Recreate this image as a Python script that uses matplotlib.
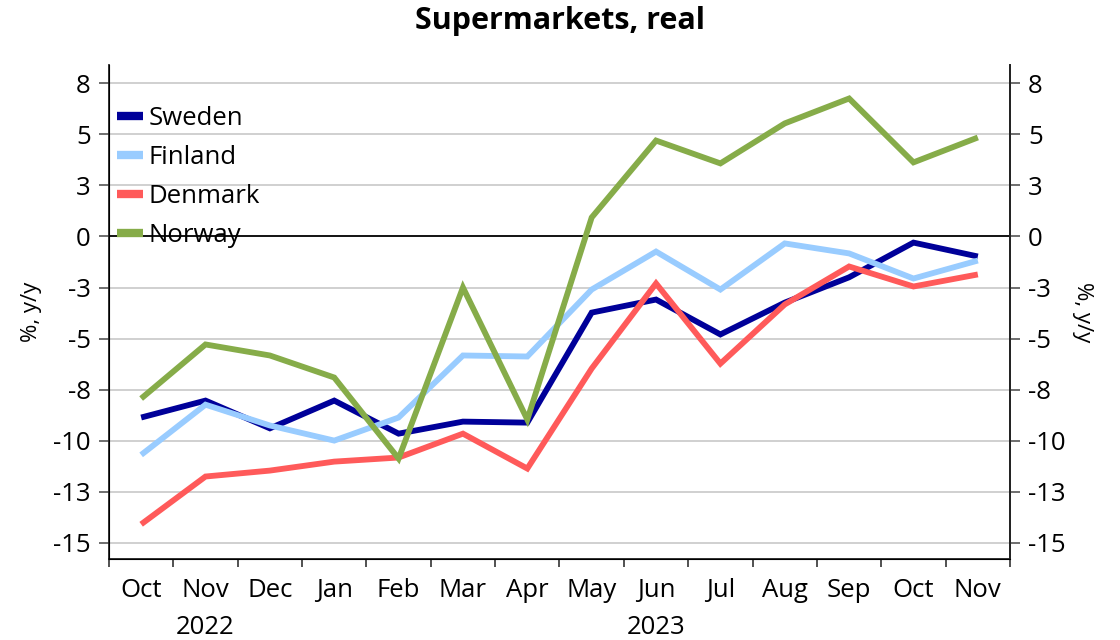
import numpy as np
import matplotlib
matplotlib.use("Agg")
import matplotlib.pyplot as plt
import matplotlib.transforms as mtransforms


MONTHS = ["Oct", "Nov", "Dec", "Jan", "Feb", "Mar", "Apr",
          "May", "Jun", "Jul", "Aug", "Sep", "Oct", "Nov"]
YEARS = ["2022", "2023"]
YEAR_POS = [1, 8]

SWEDEN = [-8.87, -8.04, -9.4, -8.04, -9.66, -9.07, -9.12,
          -3.73, -3.09, -4.8, -3.24, -2.0, -0.3, -0.98]
FINLAND = [-10.7, -8.24, -9.26, -10.0, -8.87, -5.83, -5.88,
           -2.6, -0.74, -2.6, -0.34, -0.83, -2.06, -1.18]
DENMARK = [-14.1, -11.76, -11.47, -11.03, -10.83, -9.66, -11.37,
           -6.47, -2.3, -6.23, -3.33, -1.47, -2.45, -1.86]
NORWAY = [-7.94, -5.29, -5.83, -6.91, -10.88, -2.5, -8.97,
          0.93, 4.7, 3.58, 5.54, 6.76, 3.63, 4.85]

SERIES = ["Sweden", "Finland", "Denmark", "Norway"]
COLORS = ["#000099", "#99CCFF", "#FF5A5A", "#86AC49"]

Y_TICKS = [7.5, 5, 2.5, 0, -2.5, -5, -7.5, -10, -12.5, -15]
Y_LABELS = ["8", "5", "3", "0", "-3", "-5", "-8", "-10", "-13", "-15"]

plt.rcParams["font.family"] = ["Open Sans", "DejaVu Sans"]
FS = 18.5


def main():
    fig = plt.figure(figsize=(11.2, 6.4), dpi=100)
    ax = fig.add_axes([0.0973, 0.1266, 0.8045, 0.7718])

    x = np.arange(len(MONTHS))
    ymin, ymax = -15.8, 8.4

    for yt in Y_TICKS:
        if yt != 0:
            ax.axhline(yt, color="#C8C8C8", lw=1.2, zorder=1)
    ax.axhline(0, color="black", lw=1.3, zorder=2)

    for name, vals, col in zip(SERIES, [SWEDEN, FINLAND, DENMARK, NORWAY], COLORS):
        ax.plot(x, vals, color=col, lw=4.2, label=name, zorder=3,
                solid_joinstyle="miter", solid_capstyle="butt")

    ax.set_xlim(-0.5, len(MONTHS) - 0.5)
    ax.set_ylim(ymin, ymax)

    ax.set_xticks(x)
    ax.set_xticklabels(MONTHS, fontsize=FS)
    ax.set_xticks(np.arange(-0.5, len(MONTHS), 1), minor=True)
    ax.tick_params(axis="x", which="major", length=0, pad=14)
    ax.tick_params(axis="x", which="minor", length=6, width=1.2, color="#333333")

    ax.set_yticks(Y_TICKS)
    ax.set_yticklabels(Y_LABELS, fontsize=FS)
    ax.tick_params(axis="y", length=7, width=1.2, color="#555555", pad=6)

    ax.spines["top"].set_visible(False)
    for s in ["left", "right", "bottom"]:
        ax.spines[s].set_linewidth(1.3)
        ax.spines[s].set_color("#222222")

    ax2 = ax.twinx()
    ax2.set_ylim(ymin, ymax)
    ax2.set_yticks(Y_TICKS)
    ax2.set_yticklabels(Y_LABELS, fontsize=FS)
    ax2.tick_params(axis="y", length=7, width=1.2, color="#555555", pad=6)
    ax2.spines["top"].set_visible(False)
    ax2.spines["right"].set_linewidth(1.3)
    ax2.spines["right"].set_color("#222222")

    ax.set_ylabel("%, y/y", fontsize=16, labelpad=8)
    ax2.set_ylabel("%, y/y", fontsize=16, rotation=270, labelpad=20)

    trans = mtransforms.blended_transform_factory(ax.transData, fig.transFigure)
    for yr, pos in zip(YEARS, YEAR_POS):
        ax.text(pos, 0.0, yr, transform=trans, ha="center", va="bottom",
                fontsize=FS)

    leg = ax.legend(loc="upper left", bbox_to_anchor=(-0.005, 0.943), frameon=False,
                    fontsize=FS, handlelength=1.0, handletextpad=0.2,
                    labelspacing=0.55, borderaxespad=0.3, borderpad=0.2)
    for line in leg.get_lines():
        line.set_linewidth(6)
        line.set_solid_capstyle("butt")
    leg.set_zorder(4)

    fig.suptitle("Supermarkets, real", fontsize=22, fontweight="bold", y=0.99)

    fig.savefig("out.png", dpi=100)


if __name__ == "__main__":
    main()
